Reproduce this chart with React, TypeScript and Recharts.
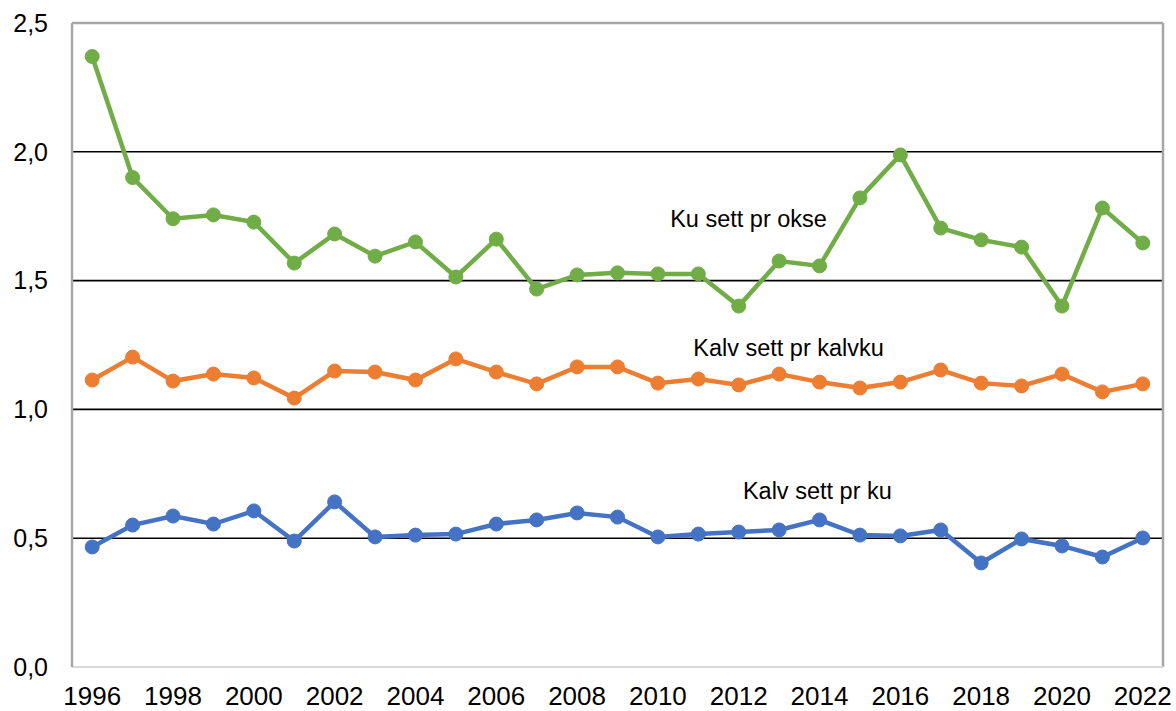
import { LineChart, Line, XAxis, YAxis, ReferenceLine } from 'recharts'

const years = [
  1996, 1997, 1998, 1999, 2000, 2001, 2002, 2003, 2004, 2005, 2006, 2007, 2008, 2009,
  2010, 2011, 2012, 2013, 2014, 2015, 2016, 2017, 2018, 2019, 2020, 2021, 2022,
]

// Ku sett pr okse
const kuPrOkse = [
  2.37, 1.9, 1.74, 1.755, 1.727, 1.568, 1.681, 1.595, 1.65, 1.514, 1.661, 1.467, 1.522, 1.53,
  1.526, 1.526, 1.401, 1.576, 1.557, 1.821, 1.988, 1.704, 1.658, 1.63, 1.401, 1.782, 1.646,
]

// Kalv sett pr kalvku
const kalvPrKalvku = [
  1.114, 1.203, 1.11, 1.137, 1.122, 1.044, 1.149, 1.145, 1.114, 1.196, 1.145, 1.099, 1.165, 1.165,
  1.102, 1.118, 1.095, 1.137, 1.106, 1.083, 1.106, 1.153, 1.102, 1.091, 1.137, 1.068, 1.099,
]

// Kalv sett pr ku
const kalvPrKu = [
  0.466, 0.551, 0.586, 0.555, 0.606, 0.489, 0.641, 0.505, 0.512, 0.516, 0.555, 0.571, 0.598, 0.582,
  0.505, 0.516, 0.524, 0.532, 0.571, 0.512, 0.509, 0.532, 0.404, 0.497, 0.47, 0.427, 0.501,
]

const xTicks = [1996, 1998, 2000, 2002, 2004, 2006, 2008, 2010, 2012, 2014, 2016, 2018, 2020, 2022]
const yTicks = [0, 0.5, 1, 1.5, 2, 2.5]
const gridValues = [0.5, 1, 1.5, 2]

const seriesLabels = [
  { text: 'Ku sett pr okse', x: 2010.18, y: 1.74 },
  { text: 'Kalv sett pr kalvku', x: 2010.75, y: 1.24 },
  { text: 'Kalv sett pr ku', x: 2011.98, y: 0.685 },
]

const FONT = '"Liberation Sans", Arial, sans-serif'

const data = years.map((year, i) => ({
  year,
  okse: kuPrOkse[i],
  kalvku: kalvPrKalvku[i],
  ku: kalvPrKu[i],
}))

const fmt = (v: number) => v.toFixed(1).replace('.', ',')

export default function App() {
  return (
    <div style={{ position: 'absolute', left: 0, top: 0, background: '#fff' }}>
      <LineChart
        width={1176}
        height={711}
        data={data}
        margin={{ top: 23, right: 13, bottom: 0, left: 0 }}
        style={{ fontFamily: FONT }}
      >
        <XAxis
          dataKey="year"
          type="number"
          domain={[1995.5, 2022.5]}
          ticks={xTicks}
          interval={0}
          height={44}
          tickLine={false}
          tickSize={0}
          tickMargin={20}
          axisLine={{ stroke: '#D9D9D9', strokeWidth: 2 }}
          tick={{ fill: '#000', fontSize: 26, fontFamily: FONT }}
        />
        <YAxis
          type="number"
          domain={[0, 2.5]}
          ticks={yTicks}
          interval={0}
          width={72}
          tickLine={false}
          tickSize={0}
          tickMargin={24}
          tickFormatter={fmt}
          axisLine={{ stroke: '#A6A6A6', strokeWidth: 2.5 }}
          tick={{ fill: '#000', fontSize: 25, fontFamily: FONT }}
        />
        {gridValues.map((v) => (
          <ReferenceLine key={v} y={v} stroke="#000" strokeWidth={1.6} />
        ))}
        <ReferenceLine y={2.5} stroke="#A6A6A6" strokeWidth={2.5} />
        <ReferenceLine x={2022.5} stroke="#A6A6A6" strokeWidth={2.5} />
        <Line
          dataKey="ku"
          stroke="#4472C4"
          strokeWidth={4.5}
          dot={{ r: 7, fill: '#4472C4', stroke: '#4472C4', strokeWidth: 1 }}
          isAnimationActive={false}
        />
        <Line
          dataKey="kalvku"
          stroke="#ED7D31"
          strokeWidth={4.5}
          dot={{ r: 7, fill: '#ED7D31', stroke: '#ED7D31', strokeWidth: 1 }}
          isAnimationActive={false}
        />
        <Line
          dataKey="okse"
          stroke="#70AD47"
          strokeWidth={4.5}
          dot={{ r: 7, fill: '#70AD47', stroke: '#70AD47', strokeWidth: 1 }}
          isAnimationActive={false}
        />
        {seriesLabels.map((l) => (
          <ReferenceLine
            key={l.text}
            segment={[
              { x: l.x, y: l.y },
              { x: l.x + 0.01, y: l.y },
            ]}
            stroke="none"
            label={{
              value: l.text,
              position: 'insideLeft',
              fill: '#000',
              fontSize: 23.5,
              fontFamily: FONT,
            }}
          />
        ))}
      </LineChart>
    </div>
  )
}
